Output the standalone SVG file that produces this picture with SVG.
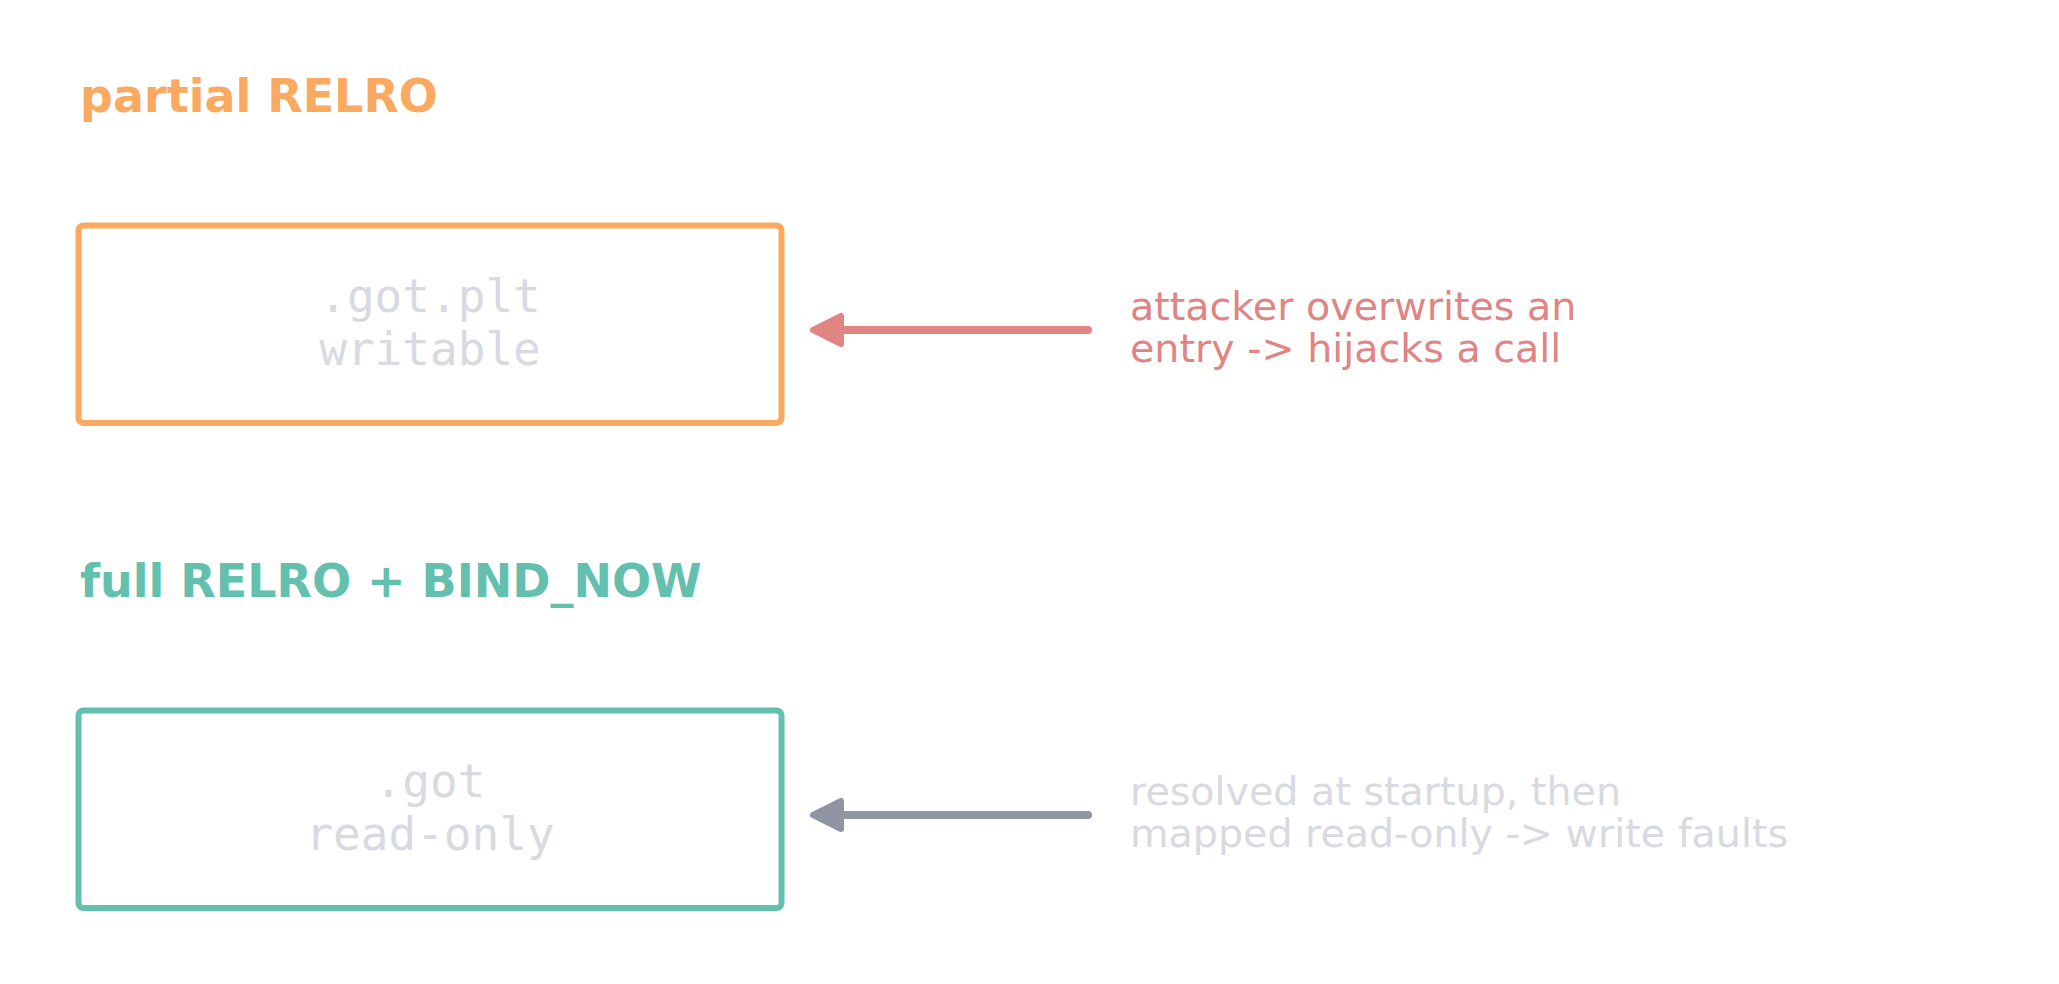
<svg xmlns="http://www.w3.org/2000/svg" width="2059" height="984" viewBox="0 0 2059 984">
  <style>
    .title { font-family: "DejaVu Sans", sans-serif; font-weight: bold; font-size: 46px; }
    .mono { font-family: "DejaVu Sans Mono", monospace; font-size: 46px; fill: #D8D9E1; text-anchor: middle; }
    .note { font-family: "DejaVu Sans", sans-serif; font-size: 39.6px; }
    .box { fill: #FFFFFF; stroke-width: 6; }
    .conn { stroke-width: 8; stroke-linecap: round; fill: none; }
  </style>
  <defs>
    <marker id="headRed" markerUnits="userSpaceOnUse" viewBox="-5 -20 39 40" refX="0" refY="0" markerWidth="39" markerHeight="40" orient="auto">
      <path d="M0,-14 L28,0 L0,14 Z" fill="#E08484" stroke="#E08484" stroke-width="6" stroke-linejoin="round"/>
    </marker>
    <marker id="headGray" markerUnits="userSpaceOnUse" viewBox="-5 -20 39 40" refX="0" refY="0" markerWidth="39" markerHeight="40" orient="auto">
      <path d="M0,-14 L28,0 L0,14 Z" fill="#8F95A3" stroke="#8F95A3" stroke-width="6" stroke-linejoin="round"/>
    </marker>
  </defs>
  <rect width="2059" height="984" fill="#FFFFFF"/>

  <g id="title-partial">
    <text class="title" x="80" y="112" fill="#FAA961">partial RELRO</text>
  </g>
  <g id="node-gotplt">
    <rect class="box" x="78.5" y="225.5" width="703" height="197.5" rx="5" stroke="#FAA961"/>
    <text class="mono" x="430" y="312">.got.plt</text>
    <text class="mono" x="430" y="365">writable</text>
  </g>
  <g id="note-attacker">
    <text class="note" fill="#E08484"><tspan x="1130" y="320">attacker overwrites an</tspan><tspan x="1130" y="362">entry -&gt; hijacks a call</tspan></text>
  </g>

  <g id="title-full">
    <text class="title" x="80" y="597" fill="#63BFAE">full RELRO + BIND_NOW</text>
  </g>
  <g id="node-got">
    <rect class="box" x="78.5" y="710.5" width="703" height="197.5" rx="5" stroke="#63BFAE"/>
    <text class="mono" x="430" y="797">.got</text>
    <text class="mono" x="430" y="850">read-only</text>
  </g>
  <g id="note-resolved">
    <text class="note" fill="#D8D9E1"><tspan x="1130" y="805">resolved at startup, then</tspan><tspan x="1130" y="847">mapped read-only -&gt; write faults</tspan></text>
  </g>

  <g id="connectors">
    <line class="conn" x1="1088" y1="330" x2="841" y2="330" stroke="#E08484" marker-end="url(#headRed)"/>
    <line class="conn" x1="1088" y1="815" x2="841" y2="815" stroke="#8F95A3" marker-end="url(#headGray)"/>
  </g>
</svg>
